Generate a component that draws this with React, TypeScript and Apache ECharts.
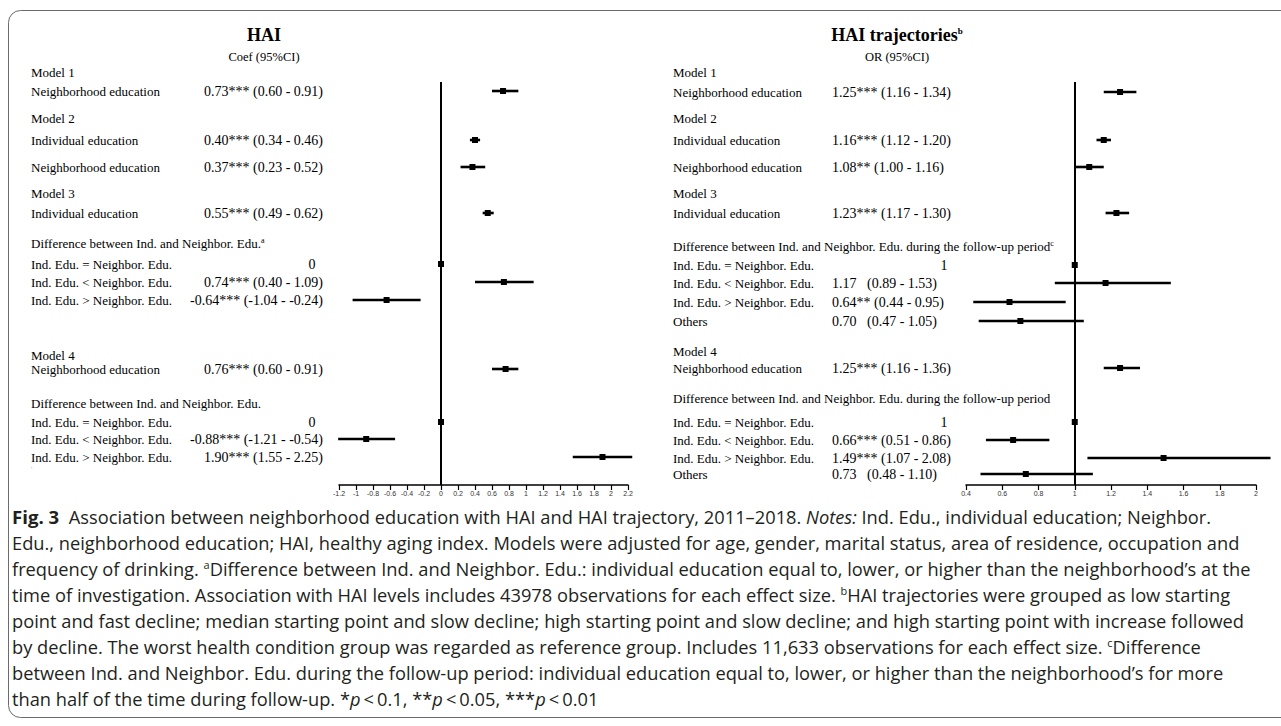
import React, { useEffect, useRef } from "react";
import * as echarts from "echarts";

const W = 1281;
const H = 726;

// ---------- Left panel: HAI, Coef (95%CI) ----------
const leftTitle = "HAI";
const leftSubtitle = "Coef (95%CI)";
const leftHeaders = [
  "Model 1",
  "Model 2",
  "Model 3",
  "Difference between Ind. and Neighbor. Edu.{sup|a}",
  "Model 4",
  "Difference between Ind. and Neighbor. Edu.",
];
const leftLabels = [
  "Neighborhood education",
  "Individual education",
  "Neighborhood education",
  "Individual education",
  "Ind. Edu. = Neighbor. Edu.",
  "Ind. Edu. < Neighbor. Edu.",
  "Ind. Edu. > Neighbor. Edu.",
  "Neighborhood education",
  "Ind. Edu. = Neighbor. Edu.",
  "Ind. Edu. < Neighbor. Edu.",
  "Ind. Edu. > Neighbor. Edu.",
];
const leftEst = [0.73, 0.4, 0.37, 0.55, 0, 0.74, -0.64, 0.76, 0, -0.88, 1.9];
const leftLo = [0.6, 0.34, 0.23, 0.49, 0, 0.4, -1.04, 0.6, 0, -1.21, 1.55];
const leftHi = [0.91, 0.46, 0.52, 0.62, 0, 1.09, -0.24, 0.91, 0, -0.54, 2.25];
const leftStars = ["***", "***", "***", "***", "", "***", "***", "***", "", "***", "***"];
const leftIsRef = [false, false, false, false, true, false, false, false, true, false, false];
const leftRef = 0;
const leftAxisMin = -1.2;
const leftAxisMax = 2.2;
const leftAxisStep = 0.2;

// ---------- Right panel: HAI trajectories, OR (95%CI) ----------
const rightTitle = "HAI trajectories{sup|b}";
const rightSubtitle = "OR (95%CI)";
const rightHeaders = [
  "Model 1",
  "Model 2",
  "Model 3",
  "Difference between Ind. and Neighbor. Edu. during the follow-up period{sup|c}",
  "Model 4",
  "Difference between Ind. and Neighbor. Edu. during the follow-up period",
];
const rightLabels = [
  "Neighborhood education",
  "Individual education",
  "Neighborhood education",
  "Individual education",
  "Ind. Edu. = Neighbor. Edu.",
  "Ind. Edu. < Neighbor. Edu.",
  "Ind. Edu. > Neighbor. Edu.",
  "Others",
  "Neighborhood education",
  "Ind. Edu. = Neighbor. Edu.",
  "Ind. Edu. < Neighbor. Edu.",
  "Ind. Edu. > Neighbor. Edu.",
  "Others",
];
const rightEst = [1.25, 1.16, 1.08, 1.23, 1, 1.17, 0.64, 0.7, 1.25, 1, 0.66, 1.49, 0.73];
const rightLo = [1.16, 1.12, 1.0, 1.17, 1, 0.89, 0.44, 0.47, 1.16, 1, 0.51, 1.07, 0.48];
const rightHi = [1.34, 1.2, 1.16, 1.3, 1, 1.53, 0.95, 1.05, 1.36, 1, 0.86, 2.08, 1.1];
const rightStars = ["***", "***", "**", "***", "", "", "**", "", "***", "", "***", "***", ""];
const rightIsRef = [false, false, false, false, true, false, false, false, false, true, false, false, false];
const rightRef = 1;
const rightAxisMin = 0.4;
const rightAxisMax = 2;
const rightAxisStep = 0.2;

// ---------- Caption ----------
const captionLines = [
  "{b|Fig. 3}  Association between neighborhood education with HAI and HAI trajectory, 2011–2018. {i|Notes:} Ind. Edu., individual education; Neighbor.",
  "Edu., neighborhood education; HAI, healthy aging index. Models were adjusted for age, gender, marital status, area of residence, occupation and",
  "frequency of drinking. {sup|a}Difference between Ind. and Neighbor. Edu.: individual education equal to, lower, or higher than the neighborhood’s at the",
  "time of investigation. Association with HAI levels includes 43978 observations for each effect size. {sup|b}HAI trajectories were grouped as low starting",
  "point and fast decline; median starting point and slow decline; high starting point and slow decline; and high starting point with increase followed",
  "by decline. The worst health condition group was regarded as reference group. Includes 11,633 observations for each effect size. {sup|c}Difference",
  "between Ind. and Neighbor. Edu. during the follow-up period: individual education equal to, lower, or higher than the neighborhood’s for more",
  "than half of the time during follow-up. *{i|p}\u2009<\u20090.1, **{i|p}\u2009<\u20090.05, ***{i|p}\u2009<\u20090.01",
];

// ---------- Layout (pixels) ----------
const L = {
  axisTop: 82,
  axisY: 485,
  leftX0: 339,
  leftX1: 628,
  rightX0: 966,
  rightX1: 1256,
  leftLabelX: 31,
  rightLabelX: 673,
  leftValueRight: 323,
  rightValueLeft: 832,
  leftRefTextX: 312,
  rightRefTextX: 944,
  leftTitleX: 264,
  rightTitleX: 897,
  titleY: 35,
  subtitleY: 57,
  leftHeaderY: [72, 118, 193, 243, 355, 403],
  leftRowY: [91, 140, 167, 213, 264, 282, 300, 369, 422, 439, 457],
  rightHeaderY: [72, 118, 193, 246, 351, 398],
  rightRowY: [92, 140, 167, 213, 265, 283, 302, 321, 368, 422, 440, 458, 474],
  captionX: 12,
  captionY0: 516,
  captionDY: 26,
  captionTargetWidth: 1228,
};

const SERIF = '"Liberation Serif", "Times New Roman", serif';
const SANS = '"Open Sans", "Noto Sans", sans-serif';
const CAPTION_COLOR = "#231f20";

function fmt(v: number) {
  return v.toFixed(2);
}

function valueText(e: number, lo: number, hi: number, stars: string, isRef: boolean, refVal: number, padNoStars: boolean) {
  if (isRef) return String(refVal);
  const gap = stars ? stars + " " : padNoStars ? "\u00a0\u00a0\u00a0" : " ";
  return `${fmt(e)}${gap}(${fmt(lo)} - ${fmt(hi)})`;
}

function txt(x: number, y: number, text: string, o: any = {}) {
  const align = o.align || "left";
  return {
    type: "text",
    x,
    y,
    silent: true,
    z: 10,
    style: {
      text,
      fontFamily: o.fontFamily || SERIF,
      fontSize: o.fontSize || 13,
      fontWeight: o.fontWeight || "normal",
      fill: o.fill || "#000",
      align,
      textAlign: align,
      verticalAlign: "middle",
      textVerticalAlign: "middle",
      rich: o.rich,
    },
  };
}

function measureCaptionSize(): number {
  try {
    const c = document.createElement("canvas");
    const ctx = c.getContext("2d");
    if (!ctx) return 16;
    ctx.font = `16px "Open Sans"`;
    const w = ctx.measureText(captionLines[1]).width;
    if (!w) return 16;
    return (16 * L.captionTargetWidth) / w;
  } catch (e) {
    return 16;
  }
}

function renderForest(params: any, api: any) {
  const y = api.value(3);
  const p = api.coord([api.value(0), y]);
  const a = api.coord([api.value(1), y]);
  const b = api.coord([api.value(2), y]);
  const children: any[] = [];
  if (Math.abs(b[0] - a[0]) > 0.5) {
    children.push({
      type: "line",
      shape: { x1: a[0], y1: a[1], x2: b[0], y2: b[1] },
      style: { stroke: "#000", lineWidth: 2.6 },
    });
  }
  children.push({
    type: "rect",
    shape: { x: p[0] - 3, y: p[1] - 3, width: 6, height: 6 },
    style: { fill: "#000" },
  });
  return { type: "group", children };
}

function axisCfg(gridIndex: number, min: number, max: number, step: number) {
  return {
    type: "value",
    gridIndex,
    min,
    max,
    interval: step,
    axisLine: { show: true, onZero: false, lineStyle: { color: "#000", width: 1.5 } },
    axisTick: { show: true, length: 5, lineStyle: { color: "#000", width: 1.2 } },
    axisLabel: { fontSize: 7, color: "#333", margin: 5, fontFamily: '"Liberation Sans", Arial, sans-serif' },
    splitLine: { show: false },
  };
}

export default function App() {
  const ref = useRef<HTMLDivElement>(null);

  useEffect(() => {
    const el = ref.current;
    if (!el) return;
    const chart = echarts.init(el, null, { renderer: "svg", width: W, height: H });

    const capSize = measureCaptionSize();
    const supRich = { sup: { fontSize: 8, fontFamily: SERIF, verticalAlign: "top", fill: "#000" } };
    const titleRich = { sup: { fontSize: 9, fontFamily: SERIF, fontWeight: "bold", verticalAlign: "top", fill: "#000" } };

    const g: any[] = [];
    // outer rounded frame
    g.push({
      type: "rect",
      silent: true,
      z: 0,
      shape: { x: 8.5, y: 10.5, width: W + 40, height: 707, r: 12 },
      style: { fill: "none", stroke: "#6b6b6b", lineWidth: 1 },
    });

    // Titles
    g.push(txt(L.leftTitleX, L.titleY, leftTitle, { align: "center", fontSize: 18, fontWeight: "bold" }));
    g.push(txt(L.leftTitleX, L.subtitleY, leftSubtitle, { align: "center", fontSize: 12.5 }));
    g.push(txt(L.rightTitleX, L.titleY, rightTitle, { align: "center", fontSize: 18, fontWeight: "bold", rich: titleRich }));
    g.push(txt(L.rightTitleX, L.subtitleY, rightSubtitle, { align: "center", fontSize: 12.5 }));

    // Headers
    leftHeaders.forEach((h, i) => g.push(txt(L.leftLabelX, L.leftHeaderY[i], h, { rich: supRich })));
    rightHeaders.forEach((h, i) => g.push(txt(L.rightLabelX, L.rightHeaderY[i], h, { rich: supRich })));

    // Row labels and values
    leftLabels.forEach((lab, i) => {
      g.push(txt(L.leftLabelX, L.leftRowY[i], lab));
      const vt = valueText(leftEst[i], leftLo[i], leftHi[i], leftStars[i], leftIsRef[i], leftRef, false);
      if (leftIsRef[i]) g.push(txt(L.leftRefTextX, L.leftRowY[i], vt, { align: "center", fontSize: 14 }));
      else g.push(txt(L.leftValueRight, L.leftRowY[i], vt, { align: "right", fontSize: 14 }));
    });
    rightLabels.forEach((lab, i) => {
      g.push(txt(L.rightLabelX, L.rightRowY[i], lab));
      const vt = valueText(rightEst[i], rightLo[i], rightHi[i], rightStars[i], rightIsRef[i], rightRef, true);
      if (rightIsRef[i]) g.push(txt(L.rightRefTextX, L.rightRowY[i], vt, { align: "center", fontSize: 14 }));
      else g.push(txt(L.rightValueLeft, L.rightRowY[i], vt, { align: "left", fontSize: 14 }));
    });
    // tiny stray mark under the left table
    g.push(txt(L.leftLabelX, 469, "'", { fontSize: 7, fill: "#999" }));

    // Caption
    const capRich = {
      b: { fontFamily: SANS, fontSize: capSize * 1.02, fontWeight: "bold", fill: CAPTION_COLOR },
      i: { fontFamily: SANS, fontSize: capSize, fontStyle: "italic", fill: CAPTION_COLOR },
      sup: { fontFamily: SANS, fontSize: capSize * 0.6, verticalAlign: "top", fill: CAPTION_COLOR },
    };
    captionLines.forEach((line, k) => {
      g.push(
        txt(L.captionX, L.captionY0 + k * L.captionDY, line, {
          fontFamily: SANS,
          fontSize: capSize,
          fill: CAPTION_COLOR,
          rich: capRich,
        })
      );
    });

    const mkData = (est: number[], lo: number[], hi: number[], ys: number[]) =>
      est.map((e, i) => [e, lo[i], hi[i], ys[i]]);

    const option: any = {
      animation: false,
      backgroundColor: "#fff",
      grid: [
        { left: L.leftX0, right: W - L.leftX1, top: L.axisTop, bottom: H - L.axisY, containLabel: false },
        { left: L.rightX0, right: W - L.rightX1, top: L.axisTop, bottom: H - L.axisY, containLabel: false },
      ],
      xAxis: [
        axisCfg(0, leftAxisMin, leftAxisMax, leftAxisStep),
        axisCfg(1, rightAxisMin, rightAxisMax, rightAxisStep),
      ],
      yAxis: [
        { type: "value", gridIndex: 0, min: L.axisTop, max: L.axisY, inverse: true, show: false },
        { type: "value", gridIndex: 1, min: L.axisTop, max: L.axisY, inverse: true, show: false },
      ],
      series: [
        {
          type: "line",
          xAxisIndex: 0,
          yAxisIndex: 0,
          data: [],
          silent: true,
          markLine: {
            silent: true,
            symbol: "none",
            label: { show: false },
            lineStyle: { color: "#000", width: 2, type: "solid" },
            data: [{ xAxis: leftRef }],
          },
        },
        {
          type: "line",
          xAxisIndex: 1,
          yAxisIndex: 1,
          data: [],
          silent: true,
          markLine: {
            silent: true,
            symbol: "none",
            label: { show: false },
            lineStyle: { color: "#000", width: 2, type: "solid" },
            data: [{ xAxis: rightRef }],
          },
        },
        {
          type: "custom",
          xAxisIndex: 0,
          yAxisIndex: 0,
          clip: false,
          z: 5,
          renderItem: renderForest,
          encode: { x: [0, 1, 2], y: 3 },
          data: mkData(leftEst, leftLo, leftHi, L.leftRowY),
        },
        {
          type: "custom",
          xAxisIndex: 1,
          yAxisIndex: 1,
          clip: false,
          z: 5,
          renderItem: renderForest,
          encode: { x: [0, 1, 2], y: 3 },
          data: mkData(rightEst, rightLo, rightHi, L.rightRowY),
        },
      ],
      graphic: { elements: g },
    };

    chart.setOption(option);
    return () => chart.dispose();
  }, []);

  return (
    <div
      ref={ref}
      style={{ position: "fixed", left: 0, top: 0, width: W, height: H, background: "#fff" }}
    />
  );
}
